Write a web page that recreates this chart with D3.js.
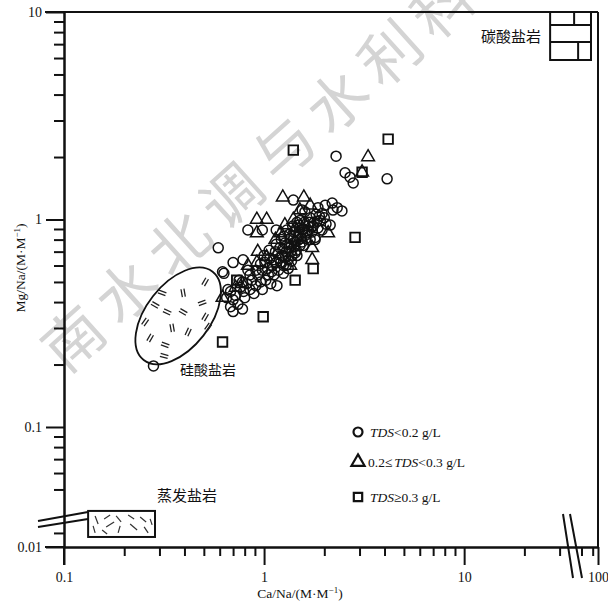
<!DOCTYPE html>
<html>
<head>
<meta charset="utf-8">
<script src="https://cdn.jsdelivr.net/npm/d3@7"></script>
<style>
  body { margin: 0; background: #fff; }
  svg { display: block; }
</style>
</head>
<body>
<svg id="chart" width="608" height="603"></svg>
<script>
// values (Ca/Na, Mg/Na)
var circles = [
  [0.28,0.197],[0.59,0.73],[0.70,0.62],[0.785,0.64],[0.83,0.89],[0.98,0.89],[1.15,0.89],[1.40,1.24],
  [2.29,2.02],[2.54,1.68],[2.69,1.60],[2.79,1.50],[4.12,1.57],[2.14,0.94],[1.80,0.82],[1.16,0.48],
  [0.63,0.55],[0.70,0.36],[0.78,0.37],[2.19,1.20],[2.32,1.14],[2.45,1.10],[2.02,1.17],[1.86,1.14],
  [1.95,1.07],[2.21,1.11],[1.55,1.11],
  [0.65,0.42],[0.68,0.45],[0.70,0.41],[0.72,0.43],[0.76,0.47],[0.79,0.45],[0.74,0.39],[0.82,0.49],
  [0.85,0.46],[0.80,0.42],[0.87,0.51],[0.91,0.48],[0.93,0.54],[0.89,0.44],[0.96,0.50],[0.68,0.38],
  [0.66,0.46],
  [0.98,0.57],[1.01,0.62],[1.05,0.54],[1.07,0.65],[1.10,0.60],[1.14,0.70],[1.15,0.62],[1.18,0.57],
  [1.20,0.73],[1.23,0.67],[1.25,0.60],[1.27,0.77],[1.29,0.70],[1.32,0.64],[1.35,0.81],[1.37,0.75],
  [1.38,0.67],[1.41,0.87],[1.43,0.78],[1.45,0.71],[1.48,0.83],[1.50,0.91],[1.51,0.75],[1.02,0.51],
  [1.08,0.49],[1.12,0.54],[0.98,0.46],
  [1.55,0.89],[1.59,0.97],[1.62,0.81],[1.66,0.93],[1.70,1.02],[1.74,0.87],[1.78,0.97],[1.82,1.06],
  [1.86,0.91],[1.91,0.99],[1.95,0.89],[2.00,1.02],[2.04,0.95],[1.70,0.80],[1.60,1.09],[1.80,0.80],
  [1.51,0.99],[1.46,0.97],
  [1.26,0.83],[1.30,0.89],[1.33,0.73],[1.40,0.80],[1.46,0.67],[1.53,0.81],[1.57,0.75],[1.19,0.65],
  [1.22,0.80],[1.29,0.60],[1.15,0.76],[1.06,0.71],[1.00,0.67],[0.96,0.61],[0.91,0.57],[0.85,0.54],
  [0.78,0.50],[0.75,0.51],[0.83,0.57],[0.62,0.56],
  [1.24,0.72],[1.31,0.76],[1.36,0.70],[1.42,0.74],[1.47,0.79],[1.52,0.85],[1.58,0.90],[1.63,0.86],
  [1.68,0.97],[1.72,0.92],[1.34,0.85],[1.39,0.93],[1.44,0.88],[1.49,0.94],[1.28,0.66],[1.21,0.62],
  [1.17,0.68],[1.12,0.64],[1.09,0.56],[1.04,0.58],[1.55,0.78],[1.61,0.84],[1.66,0.88],[1.76,0.93],
  [1.84,0.98],[1.89,1.04],[1.37,0.63],[1.43,0.69],[1.25,0.55],[1.32,0.58]
];
var triangles = [
  [3.31,2.0],[3.09,1.69],[1.24,1.28],[1.58,1.28],[0.92,1.0],[1.03,1.0],[0.92,0.86],[1.40,1.0],
  [2.09,0.86],[1.74,0.64],[0.93,0.70],[0.92,0.62],[0.78,0.49],[0.62,0.42],[1.74,0.73],[1.43,0.91],
  [1.03,0.66],[1.27,0.94],[1.51,1.11],[1.70,1.17],[1.14,0.80],[0.83,0.60],[1.35,0.60],[0.72,0.47],
  [1.21,0.86],[1.60,0.95]
];
var squares = [
  [1.40,2.16],[4.17,2.44],[2.85,0.82],[1.76,0.58],[1.43,0.51],[0.99,0.34],[0.62,0.257],[0.73,0.51],[3.09,1.69]
];

var xMajor = [0.1, 1, 10, 100];
var xMinor = [0.2,0.3,0.4,0.5,0.6,0.7,0.8,0.9, 2,3,4,5,6,7,8,9, 20,30, 50,80];
var yMajor = [0.01, 0.1, 1, 10];
var yMinor = [0.02, 0.05,0.06,0.07,0.08,0.09, 0.2,0.3,0.4,0.5,0.6,0.7,0.8,0.9, 2,3,4,5,6,7,8,9];

var legendItems = ["circle", "triangle", "square"];

var svg = d3.select("#chart");
var serif = "'Liberation Serif', 'Times New Roman', serif";
var cjk = "'Noto Sans CJK SC', sans-serif";

// log axes with a break (x beyond ~35, y below ~0.035)
var x = d3.scaleLog().domain([0.1, 35, 100]).range([64, 573, 598]);
var y = d3.scaleLog().domain([0.01, 0.035, 10]).range([547, 521.6, 12]);

// watermark
svg.append("text")
  .attr("transform", "translate(66,375) rotate(-42)")
  .attr("font-family", cjk)
  .attr("font-size", 60)
  .attr("letter-spacing", 11)
  .attr("fill", "#d4d4d4")
  .text("南水北调与水利科");

// frame top / right
svg.append("line").attr("x1", 45).attr("x2", x(100)).attr("y1", y(10)).attr("y2", y(10))
  .attr("stroke", "#111").attr("stroke-width", 2);
svg.append("line").attr("x1", x(100)).attr("x2", x(100)).attr("y1", y(10)).attr("y2", y(0.01))
  .attr("stroke", "#111").attr("stroke-width", 2);

var fmt = function(d) { return String(d); };

// x axis
var gx = svg.append("g").attr("transform", "translate(0," + y(0.01) + ")");
gx.call(d3.axisBottom(x).tickValues(xMinor).tickSize(9).tickSizeOuter(0).tickFormat(""));
gx.append("g").call(d3.axisBottom(x).tickValues(xMajor).tickSize(18).tickSizeOuter(0).tickPadding(7).tickFormat(fmt));
gx.selectAll("path.domain").attr("stroke", "#111").attr("stroke-width", 2);
gx.selectAll(".tick line").attr("stroke", "#111").attr("stroke-width", 2);
gx.selectAll("text").attr("font-family", serif).attr("font-size", 14).attr("fill", "#111");
gx.append("path").attr("d", "M" + (x(0.1) - 19) + ",0H" + x(0.1)).attr("stroke", "#111").attr("stroke-width", 2);

// y axis
var gy = svg.append("g").attr("transform", "translate(" + x(0.1) + ",0)");
gy.call(d3.axisLeft(y).tickValues(yMinor).tickSize(10).tickSizeOuter(0).tickFormat(""));
gy.append("g").call(d3.axisLeft(y).tickValues(yMajor).tickSize(18).tickSizeOuter(0).tickPadding(4).tickFormat(fmt));
gy.selectAll("path.domain").attr("stroke", "#111").attr("stroke-width", 2);
gy.selectAll(".tick line").attr("stroke", "#111").attr("stroke-width", 2);
gy.selectAll("text").attr("font-family", serif).attr("font-size", 14).attr("fill", "#111");
gy.append("path").attr("d", "M0," + y(0.01) + "V" + (y(0.01) + 18)).attr("stroke", "#111").attr("stroke-width", 2);

// axis break marks
var brk = svg.append("g").attr("stroke", "#111").attr("stroke-width", 2).attr("fill", "none");
brk.append("path").attr("d", "M563,514L573,578M570,514L582,578");
brk.append("path").attr("d", "M38,521L88,512M38,527L88,519");

// axis titles
var xt = svg.append("text").attr("x", 300).attr("y", 598).attr("text-anchor", "middle")
  .attr("font-family", serif).attr("font-size", 13.5).attr("fill", "#111");
xt.append("tspan").text("Ca/Na/(M·M");
xt.append("tspan").attr("font-size", 9).attr("dy", -5).text("−1");
xt.append("tspan").attr("dy", 5).text(")");

var yt = svg.append("text").attr("transform", "translate(25,268) rotate(-90)").attr("text-anchor", "middle")
  .attr("font-family", serif).attr("font-size", 13.5).attr("fill", "#111");
yt.append("tspan").text("Mg/Na/(M·M");
yt.append("tspan").attr("font-size", 9).attr("dy", -5).text("−1");
yt.append("tspan").attr("dy", 5).text(")");

// carbonate box (brick pattern)
var cb = svg.append("g").attr("stroke", "#111").attr("stroke-width", 2).attr("fill", "none");
var cx0 = x(26.9), cx1 = x(74.5), cy0 = y(10), cy1 = y(5.87);
cb.append("rect").attr("x", cx0).attr("y", cy0).attr("width", cx1 - cx0).attr("height", cy1 - cy0).attr("fill", "#fff");
cb.append("path").attr("d", "M" + cx0 + "," + (cy0 + 13) + "H" + cx1 + "M" + cx0 + "," + (cy0 + 30) + "H" + cx1 +
  "M" + (cx0 + 24) + "," + cy0 + "V" + (cy0 + 13) + "M" + (cx0 + 28) + "," + (cy0 + 30) + "V" + cy1);
svg.append("text").attr("x", 541).attr("y", 42).attr("text-anchor", "end")
  .attr("font-family", cjk).attr("font-size", 15).attr("fill", "#111").text("碳酸盐岩");

// evaporite box
var ex0 = x(0.132), ex1 = x(0.285), ey0 = y(0.0394), ey1 = y(0.0164);
svg.append("rect").attr("x", ex0).attr("y", ey0).attr("width", ex1 - ex0).attr("height", ey1 - ey0)
  .attr("fill", "#fff").attr("stroke", "#111").attr("stroke-width", 2);
var evapStrokes = [[7,5,10,13],[5,15,7,22],[16,8,22,4],[18,16,26,11],[28,5,33,11],[32,15,30,22],
  [40,4,46,8],[42,13,49,19],[52,6,58,11],[56,16,60,22],[14,19,19,23],[62,8,64,14]];
svg.append("g").selectAll("line").data(evapStrokes).join("line")
  .attr("x1", function(d) { return ex0 + d[0]; }).attr("y1", function(d) { return ey0 + d[1]; })
  .attr("x2", function(d) { return ex0 + d[2]; }).attr("y2", function(d) { return ey0 + d[3]; })
  .attr("stroke", "#333").attr("stroke-width", 1.2);
svg.append("text").attr("x", 157).attr("y", 501)
  .attr("font-family", cjk).attr("font-size", 15).attr("fill", "#111").text("蒸发盐岩");

// silicate ellipse
var ecx = x(0.372), ecy = y(0.343);
var sil = svg.append("g").attr("transform", "translate(" + ecx + "," + ecy + ")");
sil.append("ellipse").attr("rx", 56).attr("ry", 32).attr("transform", "rotate(-52)")
  .attr("fill", "#fff").attr("stroke", "#111").attr("stroke-width", 1.8);
var silMarks = [[27,-34,-60],[5,-23,80],[-16,-23,20],[24,-13,-20],[-11,-4,25],[5,-4,30],[27,1,-60],
  [-6,12,80],[10,16,-65],[-33,6,-55],[-28,22,-60],[-13,29,20],[30,11,-55],[-23,-11,30],[-14,40,15]];
sil.selectAll("g.m").data(silMarks).join("g").attr("class", "m")
  .attr("transform", function(d) { return "translate(" + d[0] + "," + d[1] + ") rotate(" + d[2] + ")"; })
  .append("path").attr("d", "M-4,-1.5H4M-4,1.5H4").attr("stroke", "#222").attr("stroke-width", 1.3);
svg.append("text").attr("x", 180).attr("y", 375)
  .attr("font-family", cjk).attr("font-size", 14).attr("fill", "#111").text("硅酸盐岩");

// data points
var pts = svg.append("g").attr("fill", "none").attr("stroke", "#111");
pts.selectAll("circle").data(circles).join("circle")
  .attr("cx", function(d) { return x(d[0]); }).attr("cy", function(d) { return y(d[1]); })
  .attr("r", 5).attr("stroke-width", 1.5);
var tri = d3.symbol().type(d3.symbolTriangle).size(70);
pts.selectAll("path.tri").data(triangles).join("path").attr("class", "tri")
  .attr("d", tri).attr("stroke-width", 1.5)
  .attr("transform", function(d) { return "translate(" + x(d[0]) + "," + y(d[1]) + ")"; });
var sq = d3.symbol().type(d3.symbolSquare).size(90);
pts.selectAll("path.sq").data(squares).join("path").attr("class", "sq")
  .attr("d", sq).attr("stroke-width", 1.9)
  .attr("transform", function(d) { return "translate(" + x(d[0]) + "," + y(d[1]) + ")"; });

// legend
var legY = [432, 462, 497];
var leg = svg.append("g");
legendItems.forEach(function(k, i) {
  var g = leg.append("g").attr("transform", "translate(358," + legY[i] + ")");
  if (k === "circle") g.append("circle").attr("r", 4.5);
  else g.append("path").attr("d", d3.symbol().type(k === "triangle" ? d3.symbolTriangle : d3.symbolSquare).size(k === "triangle" ? 75 : 70));
  g.selectAll("circle,path").attr("fill", "none").attr("stroke", "#111").attr("stroke-width", 2.2);
});
var lt = leg.append("g").attr("font-family", serif).attr("font-size", 13.5).attr("fill", "#111");
var t1 = lt.append("text").attr("x", 370).attr("y", legY[0] + 5);
t1.append("tspan").attr("font-style", "italic").text("TDS");
t1.append("tspan").text("<0.2 g/L");
var t2 = lt.append("text").attr("x", 368).attr("y", legY[1] + 5);
t2.append("tspan").text("0.2≤");
t2.append("tspan").attr("dx", 2).attr("font-style", "italic").text("TDS");
t2.append("tspan").text("<0.3 g/L");
var t3 = lt.append("text").attr("x", 370).attr("y", legY[2] + 5);
t3.append("tspan").attr("font-style", "italic").text("TDS");
t3.append("tspan").text("≥0.3 g/L");
</script>
</body>
</html>
